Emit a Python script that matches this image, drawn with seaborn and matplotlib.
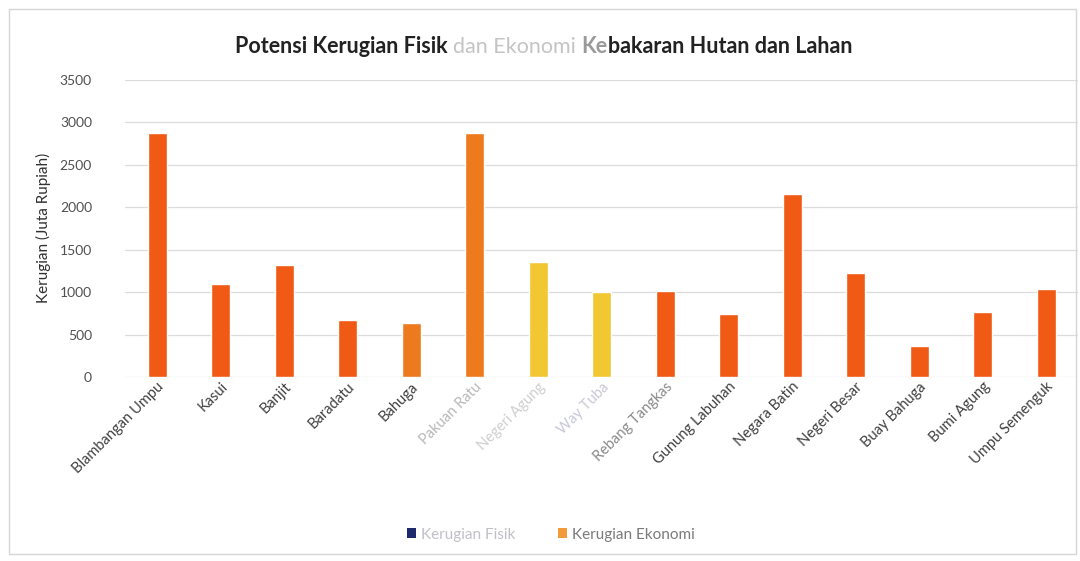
import matplotlib
matplotlib.use("Agg")
import matplotlib.pyplot as plt
from matplotlib.patches import Patch, Rectangle
import seaborn as sns
import pandas as pd

# Kecamatan (districts) and estimated economic losses, in million rupiah
kecamatan = [
    "Blambangan Umpu", "Kasui", "Banjit", "Baradatu", "Bahuga",
    "Pakuan Ratu", "Negeri Agung", "Way Tuba", "Rebang Tangkas",
    "Gunung Labuhan", "Negara Batin", "Negeri Besar", "Buay Bahuga",
    "Bumi Agung", "Umpu Semenguk",
]
kerugian_ekonomi = [2870, 1100, 1320, 670, 640,
                    2875, 1350, 1000, 1010,
                    740, 2150, 1230, 370,
                    760, 1030]
yticks = [0, 500, 1000, 1500, 2000, 2500, 3000, 3500]
series_names = ["Kerugian Fisik", "Kerugian Ekonomi"]

RED = "#F05A14"
ORANGE = "#EE7A1E"
YELLOW = "#F2C832"
bar_colors = [RED, RED, RED, RED, ORANGE,
              ORANGE, YELLOW, YELLOW, RED,
              RED, RED, RED, RED,
              RED, RED]
label_colors = ["#404040"] * 5 + ["#b8b8b8", "#cfcfcf", "#c8c8d8", "#8a8a8a"] + ["#404040"] * 6

df = pd.DataFrame({"Kecamatan": kecamatan, "Kerugian": kerugian_ekonomi})

sns.set_theme(style="white")
plt.rcParams["font.family"] = ["Lato", "DejaVu Sans"]

fig = plt.figure(figsize=(10.8, 5.61), dpi=100)
ax = fig.add_axes([0.116, 0.328, 0.882, 0.53])

sns.barplot(data=df, x="Kecamatan", y="Kerugian", hue="Kecamatan",
            palette=bar_colors, legend=False, width=0.3, ax=ax,
            saturation=1)

ax.set_ylim(0, 3500)
ax.set_xlim(-0.5, len(kecamatan) - 0.5)
ax.set_yticks(yticks)
ax.set_yticklabels([str(v) for v in yticks], fontsize=10, color="#505050")
ax.yaxis.grid(True, color="#dcdcdc", linewidth=0.9)
ax.set_axisbelow(True)
for s in ax.spines.values():
    s.set_visible(False)
ax.tick_params(axis="y", length=0, pad=24)
ax.tick_params(axis="x", length=0, pad=2)

ax.set_xticks(range(len(kecamatan)))
ax.set_xticklabels(kecamatan, rotation=45, ha="right", rotation_mode="anchor",
                   fontsize=10.5)
for lbl, c in zip(ax.get_xticklabels(), label_colors):
    lbl.set_color(c)
ax.set_xlabel("")
ax.set_ylabel("Kerugian (Juta Rupiah)", fontsize=11, color="#303030", labelpad=6)

# Title assembled from pieces so each part keeps its own tone
pieces = [("Potensi Kerugian Fisik ", "#222222", "bold"),
          ("dan Ekonomi ", "#c4c4c4", "normal"),
          ("Ke", "#9a9a9a", "bold"),
          ("bakaran Hutan dan Lahan", "#222222", "bold")]
TITLE_Y = 0.905
TITLE_SIZE = 15.5
fig.canvas.draw()
renderer = fig.canvas.get_renderer()
x_cursor = 0.218
for txt, col, wt in pieces:
    t = fig.text(x_cursor, TITLE_Y, txt, color=col, fontweight=wt,
                 fontsize=TITLE_SIZE, va="baseline")
    bb = t.get_window_extent(renderer)
    x_cursor = bb.x1 / fig.bbox.width

# Legend beneath the axis
handles = [Patch(facecolor="#1f2a6e", edgecolor="none"),
           Patch(facecolor="#F29A3A", edgecolor="none")]
leg = fig.legend(handles, series_names, loc="center", bbox_to_anchor=(0.51, 0.047),
                 ncol=2, frameon=False, fontsize=11, handlelength=0.6,
                 handleheight=0.6, columnspacing=2.8, handletextpad=0.3)
leg.get_texts()[0].set_color("#c0c0c8")
leg.get_texts()[1].set_color("#7a7a7a")

# Chart frame
fig.patches.append(Rectangle((0.008, 0.012), 0.988, 0.972, transform=fig.transFigure,
                             fill=False, edgecolor="#d6d6d6", linewidth=1.0))

fig.savefig("out.png", dpi=100)
